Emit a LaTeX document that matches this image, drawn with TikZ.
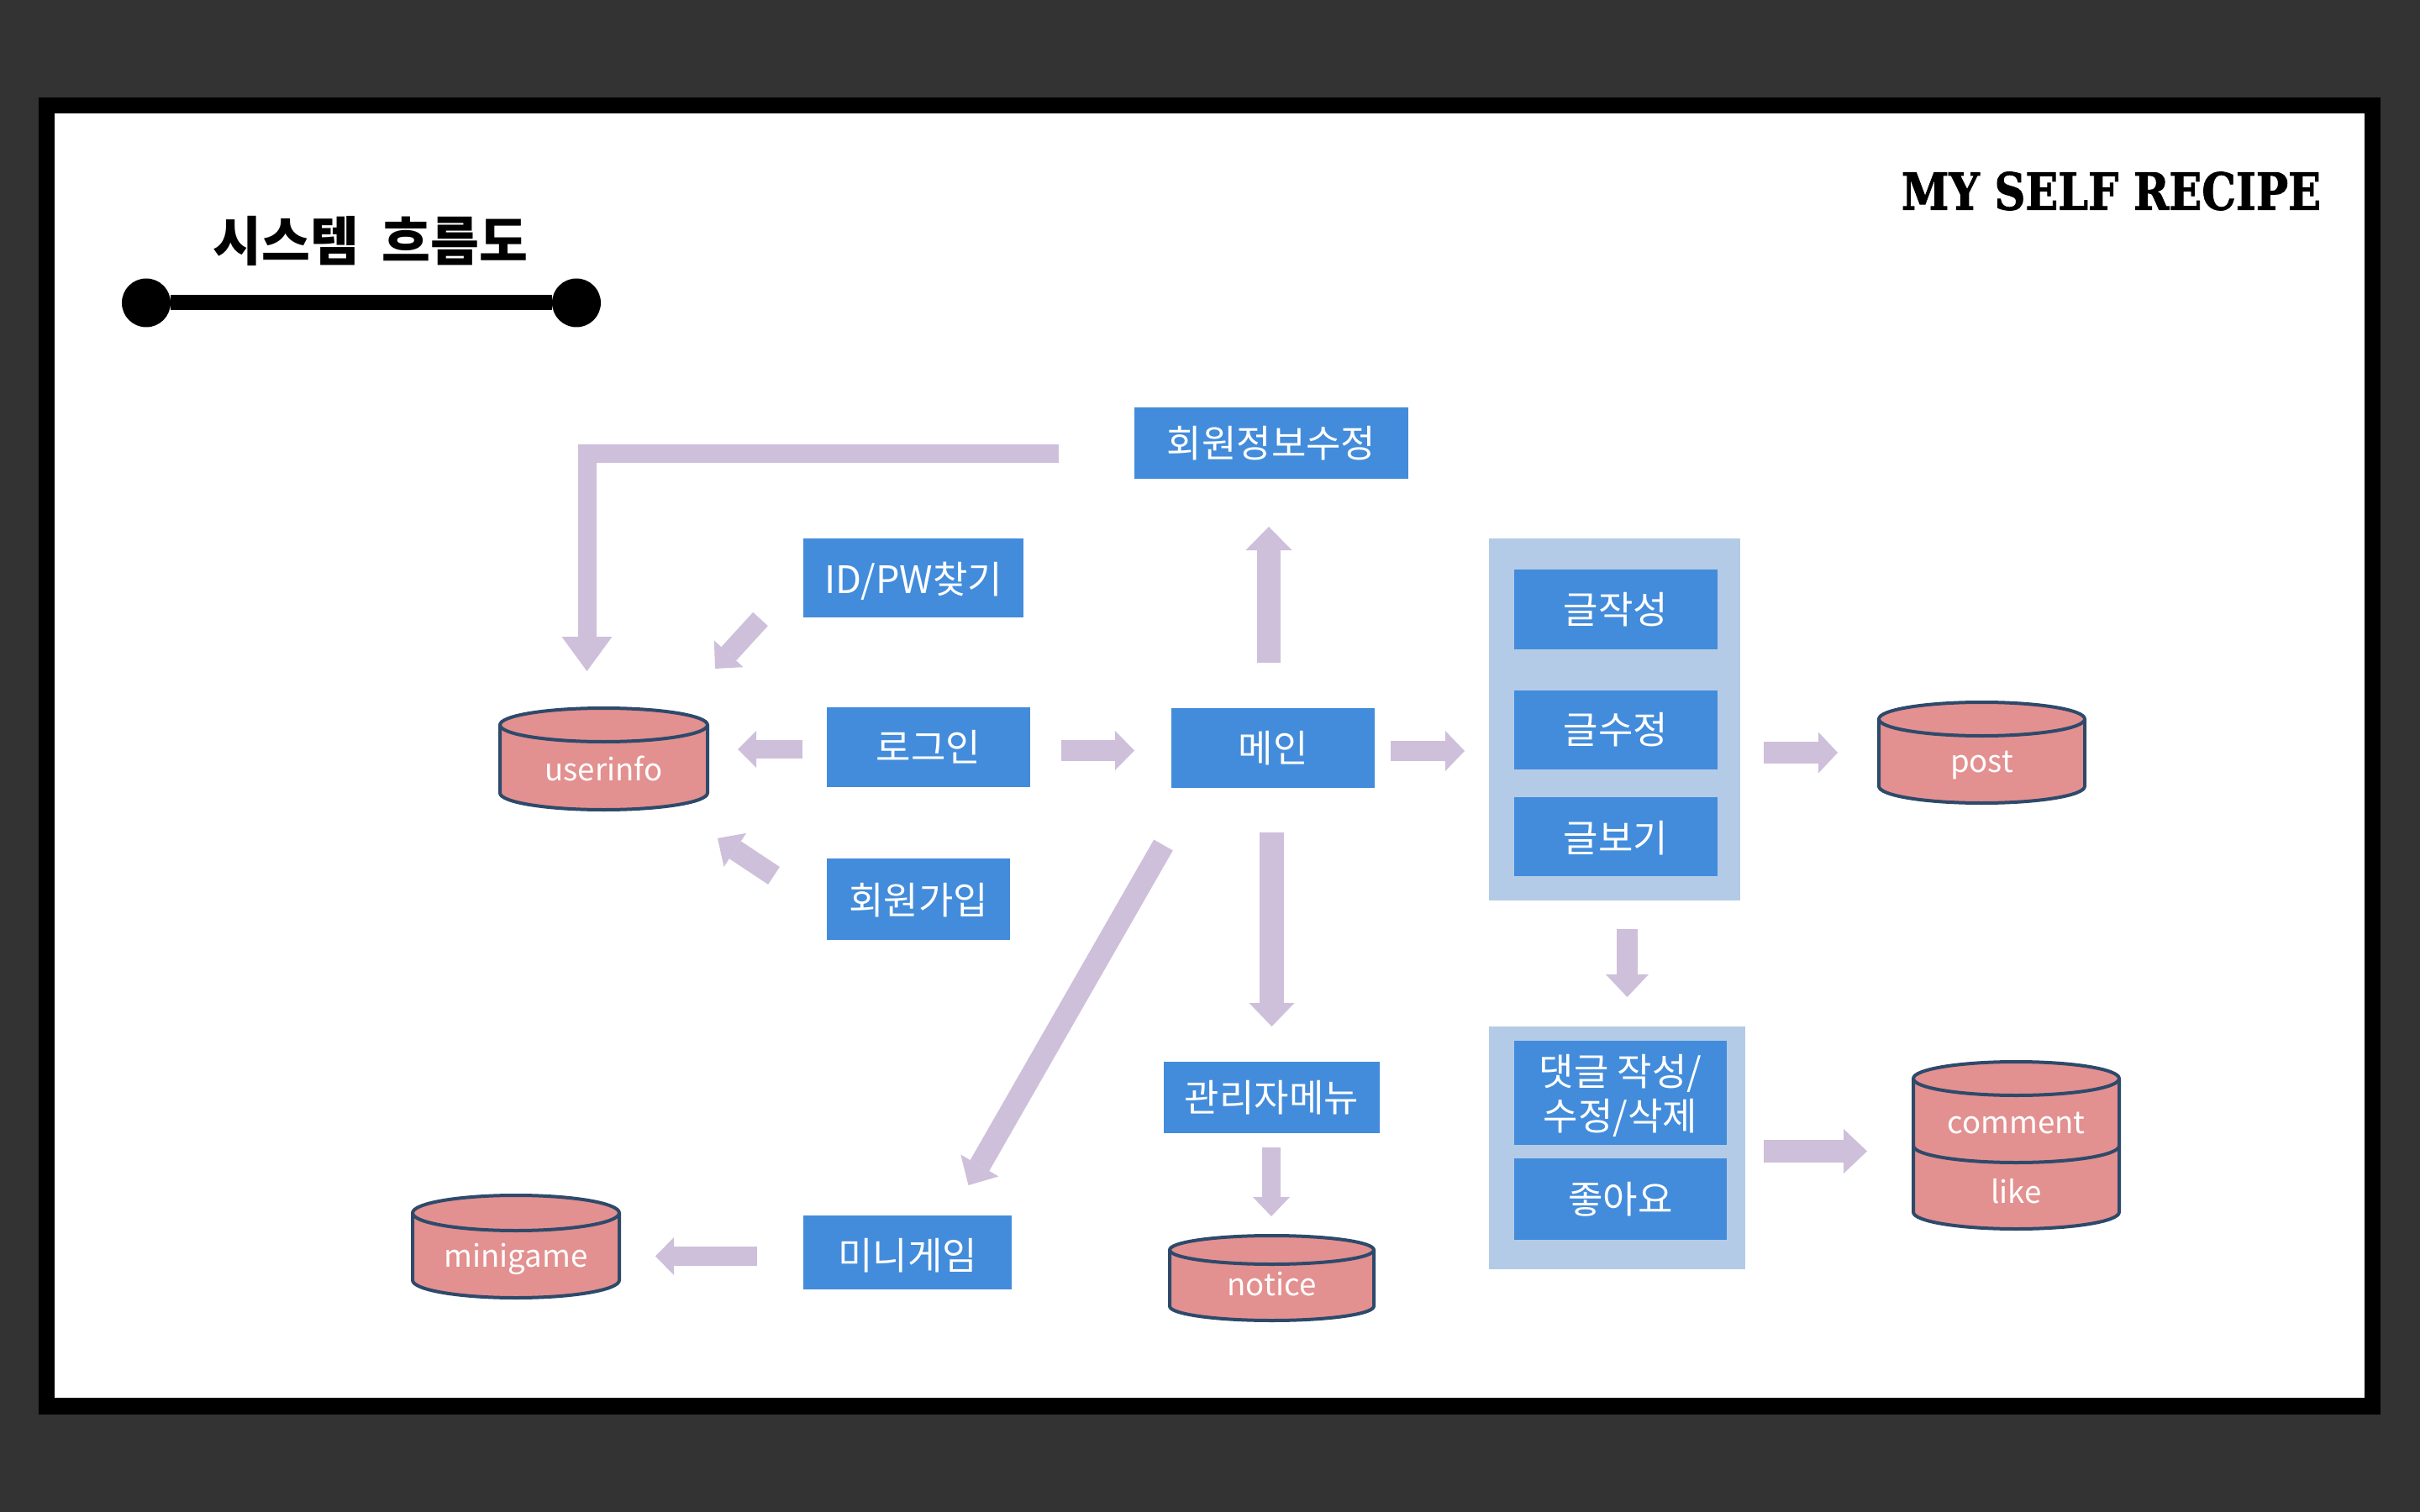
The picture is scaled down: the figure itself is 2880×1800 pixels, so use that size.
\documentclass[tikz,border=0pt]{standalone}
\usepackage{fontspec}
\usetikzlibrary{arrows.meta}
\newfontfamily\krfont{Noto Sans CJK KR}
\newfontfamily\recipefont[BoldFeatures={FakeBold=1.6}]{DejaVu Serif}
\newdimen\pxu \pxu=0.01cm
\newcommand\shifted[2]{\raisebox{#1\pxu}[\height][\depth]{#2}}
\definecolor{pagebg}{HTML}{333333}
\definecolor{boxblue}{HTML}{438CDB}
\definecolor{groupblue}{HTML}{B4CBE7}
\definecolor{flowc}{HTML}{CEBFDB}
\definecolor{dbfill}{HTML}{E39090}
\definecolor{dbline}{HTML}{2E4A6B}
\tikzset{
  sized/.style 2 args={minimum width=#1*\pxu,minimum height=#2*\pxu,inner sep=0pt,outer sep=0pt},
  bluebox/.style={rectangle,fill=boxblue,text=white,align=center,
    font=\krfont\fontsize{12.8pt}{15.1pt}\selectfont},
  groupbox/.style={rectangle,fill=groupblue},
  dbtext/.style={text=white,font=\krfont\fontsize{10.4pt}{12pt}\selectfont},
  flow/.code n args={3}{%
    \pgfmathsetlengthmacro\flowlen{#2*\pxu}%
    \pgfmathsetlengthmacro\flowwid{#3*\pxu}%
    \tikzset{draw=flowc,line width=#1*\pxu,
      -{Triangle[length=\flowlen,width=\flowwid,fill=flowc,line width=0pt]}}},
  dbshape/.style={fill=dbfill,draw=dbline,line width=4*\pxu,line join=round},
  dbarc/.style={draw=dbline,line width=4*\pxu},
  dot/.style={circle,fill=black,minimum size=58*\pxu,inner sep=0pt,outer sep=0pt}
}
% x-left, centre y of top ellipse, centre y of bottom ellipse, x radius, y radius
\newcommand\dbcyl[5]{%
  \path[dbshape] (#1,#2) -- (#1,#3)
    arc[start angle=180,end angle=360,x radius=#4*\pxu,y radius=#5*\pxu]
    -- (#1+2*#4,#2)
    arc[start angle=0,end angle=180,x radius=#4*\pxu,y radius=#5*\pxu] -- cycle;
  \path[dbarc] (#1,#2) arc[start angle=180,end angle=360,x radius=#4*\pxu,y radius=#5*\pxu];
}
\begin{document}
\begin{tikzpicture}[x=0.01cm,y=-0.01cm]
\useasboundingbox (0,0) rectangle (2880,1800);
\fill[pagebg] (0,0) rectangle (2880,1800);
\fill[black] (46,116) rectangle (2833,1684);
\fill[white] (65,135) rectangle (2814,1664);

% heading
\node[text=black,font=\krfont\bfseries\fontsize{17.9pt}{20pt}\selectfont,inner sep=0pt] (title) at (441,287) {시스템\hspace{3.5pt} 흐름도};
\node[dot] (dotl) at (174,360.5) {};
\node[dot] (dotr) at (686,360.5) {};
\draw[black,line width=18*\pxu] (dotl) -- (dotr);
\node[inner sep=0pt,text=black] (recipe) at (2512.5,227.5) {\resizebox{499\pxu}{45\pxu}{\recipefont\bfseries MY SELF RECIPE}};

% group panels
\node[groupbox,sized={299}{431}] (grpa) at (1921.5,856.5) {};
\node[groupbox,sized={305}{289}] (grpb) at (1924.5,1366.5) {};

% boxes
\node[bluebox,sized={326}{85}] (edit) at (1513,527.5) {회원정보수정};
\node[bluebox,sized={262}{94}] (find) at (1087,688) {\shifted{-3.5}{ID/PW찾기}};
\node[bluebox,sized={242}{95}] (login) at (1105,889.5) {로그인};
\node[bluebox,sized={242}{95}] (mainb) at (1515,890.5) {메인};
\node[bluebox,sized={218}{97}] (join) at (1093,1070.5) {\shifted{-1.5}{회원가입}};
\node[bluebox,sized={257}{85}] (admin) at (1513.5,1306.5) {관리자메뉴};
\node[bluebox,sized={248}{88}] (mgame) at (1080,1491) {\shifted{-3.5}{미니게임}};
\node[bluebox,sized={242.5}{95}] (write) at (1923,725.5) {글작성};
\node[bluebox,sized={242.5}{94}] (modify) at (1923,869) {글수정};
\node[bluebox,sized={242.5}{94}] (viewb) at (1923,996) {\shifted{-1.5}{글보기}};
\node[bluebox,sized={253}{124}] (reply) at (1928.5,1301) {\shifted{-3}{\parbox{250\pxu}{\centering 댓글 작성/\\수정/삭제}}};
\node[bluebox,sized={253}{97}] (likeb) at (1928.5,1427.5) {좋아요};

% databases
\dbcyl{595}{863}{944}{123.5}{20}
\node[dbtext,sized={247}{121}] (userinfo) at (718.5,903.5) {\shifted{-11}{userinfo}};
\dbcyl{2236}{856}{936}{122.5}{20}
\node[dbtext,sized={245}{120}] (post) at (2358.5,896) {\shifted{-15}{post}};
\dbcyl{2277}{1284}{1443}{122.5}{20}
\path[dbarc] (2277,1364) arc[start angle=180,end angle=360,x radius=122.5*\pxu,y radius=20*\pxu];
\node[dbtext,sized={245}{120}] (comment) at (2399.5,1324) {\shifted{-13}{comment}};
\node[dbtext,sized={245}{79}] (like) at (2399.5,1423.5) {\shifted{5.5}{like}};
\dbcyl{491}{1444}{1524}{123}{21}
\node[dbtext,sized={246}{122}] (minigame) at (614,1484) {\shifted{-15}{minigame}};
\dbcyl{1392}{1488}{1555}{121.5}{17}
\node[dbtext,sized={243}{101}] (notice) at (1513.5,1521.5) {\shifted{-7.5}{notice}};

% connectors
\draw[flow={22}{41}{60}] ([shift={(-90,12)}]edit.west) -| ([shift={(-20,-44)}]userinfo.north);
\draw[flow={24}{24}{47}] ([shift={(-51,2)}]find.south west) -- ([shift={(9,-47)}]userinfo.north east);
\draw[flow={22}{22}{44}] ([shift={(-29,2.5)}]login.west) -- ([shift={(36,-11.5)}]userinfo.east);
\draw[flow={25}{25}{48}] ([shift={(-63,-28)}]join.west) -- ([shift={(12,34)}]userinfo.south east);
\draw[flow={25}{23}{47}] ([shift={(37,4)}]login.east) -- ([shift={(-44,3)}]mainb.west);
\draw[flow={28}{28}{55}] ([shift={(-5,-54)}]mainb.north) -- ([shift={(-3,57)}]edit.south);
\draw[flow={24}{23}{48}] ([shift={(19,3.5)}]mainb.east) -- ([shift={(-29,37.5)}]grpa.west);
\draw[flow={29}{28}{54}] ([shift={(-1.5,53)}]mainb.south) -- ([shift={(0,-42)}]admin.north);
\draw[flow={26}{27}{52}] ([shift={(-130.5,68)}]mainb.south) -- ([shift={(72.5,-36)}]mgame.north);
\draw[flow={22}{23}{44}] ([shift={(-0.5,17)}]admin.south) -- ([shift={(-0.5,-23)}]notice.north);
\draw[flow={23}{22}{45}] ([shift={(-55,4.5)}]mgame.west) -- ([shift={(43,11.5)}]minigame.east);
\draw[flow={26}{23}{49}] ([shift={(28,39.5)}]grpa.east) -- ([shift={(-49,0)}]post.west);
\draw[flow={25}{27}{51}] ([shift={(15,34)}]grpa.south) -- ([shift={(12,-35)}]grpb.north);
\draw[flow={27}{28}{53}] ([shift={(22,4)}]grpb.east) -- ([shift={(-55,46.5)}]comment.west);
\end{tikzpicture}
\end{document}
